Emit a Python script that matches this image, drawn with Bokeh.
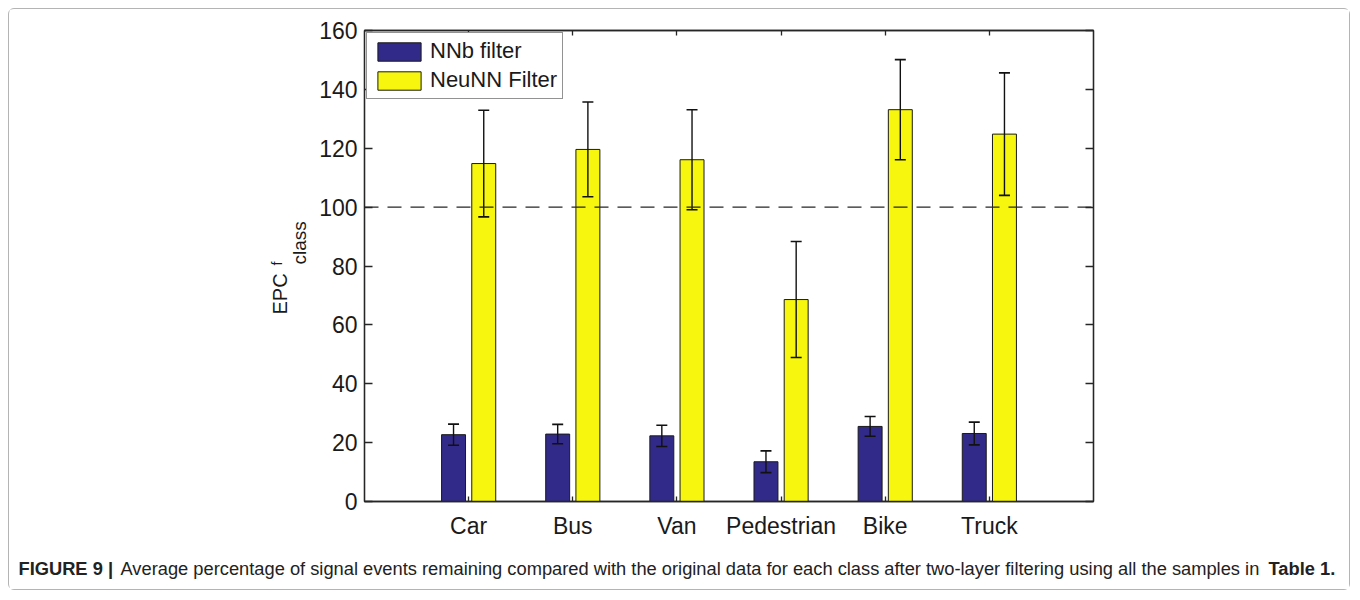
import numpy as np
from bokeh.plotting import figure
from bokeh.models import (ColumnDataSource, Range1d, Whisker, TeeHead, Span, Label,
                          Legend, LegendItem, LinearAxis, FixedTicker)
from bokeh.transform import dodge
from bokeh.embed import file_html
from bokeh.resources import INLINE

# ---- data ----
categories = ["Car", "Bus", "Van", "Pedestrian", "Bike", "Truck"]
nnb_mean = [22.7, 22.9, 22.3, 13.5, 25.5, 23.1]
nnb_err = [3.6, 3.3, 3.6, 3.7, 3.35, 3.85]
neunn_mean = [114.8, 119.6, 116.1, 68.6, 133.1, 124.8]
neunn_err = [18.1, 16.1, 17.0, 19.7, 17.0, 20.8]
y_ticks = [0, 20, 40, 60, 80, 100, 120, 140, 160]
reference_level = 100
series_labels = ["NNb filter", "NeuNN Filter"]
caption_bold = "FIGURE 9 |"
caption_text = "Average percentage of signal events remaining compared with the original data for each class after two-layer filtering using all the samples in"
caption_ref = "Table 1"

# ---- style ----
BLUE = "#312a88"
YELLOW = "#f6f60e"
AX = "#262626"
FONT = "Liberation Sans"

pos = np.arange(1, len(categories) + 1)
src = ColumnDataSource(dict(
    pos=pos,
    nnb=nnb_mean,
    nnb_lo=np.array(nnb_mean) - np.array(nnb_err),
    nnb_hi=np.array(nnb_mean) + np.array(nnb_err),
    neu=neunn_mean,
    neu_lo=np.array(neunn_mean) - np.array(neunn_err),
    neu_hi=np.array(neunn_mean) + np.array(neunn_err),
))

p = figure(width=1342, height=582, output_backend="svg", toolbar_location=None,
           x_range=Range1d(0, len(categories) + 1), y_range=Range1d(0, 160),
           min_border_left=355, min_border_right=258, min_border_top=21, min_border_bottom=90)
p.styles = {"border": "1px solid #b4b4b4", "border-radius": "6px", "margin": "8px"}
p.grid.visible = False
p.outline_line_color = AX
p.outline_line_width = 1.3

off = 0.145
bw = 0.23
r1 = p.vbar(x=dodge("pos", -off), top="nnb", width=bw, source=src,
            fill_color=BLUE, line_color="#1a1a1a", line_width=1)
r2 = p.vbar(x=dodge("pos", off), top="neu", width=bw, source=src,
            fill_color=YELLOW, line_color="#1a1a1a", line_width=1)

for base, lo, hi in [(dodge("pos", -off), "nnb_lo", "nnb_hi"), (dodge("pos", off), "neu_lo", "neu_hi")]:
    w = Whisker(source=src, base=base, lower=lo, upper=hi, level="annotation",
                line_color="#111111", line_width=1.4,
                upper_head=TeeHead(size=11, line_color="#111111", line_width=1.6),
                lower_head=TeeHead(size=11, line_color="#111111", line_width=1.6))
    p.add_layout(w)

p.add_layout(Span(location=reference_level, dimension="width", line_color=AX,
                  line_width=1.4, line_dash="14 9"))

# axes
xt = FixedTicker(ticks=list(pos))
yt = FixedTicker(ticks=y_ticks)
for ax in [p.xaxis[0], p.yaxis[0]]:
    ax.axis_line_color = AX
    ax.axis_line_width = 1.3
    ax.major_tick_line_color = AX
    ax.major_tick_line_width = 1.3
    ax.minor_tick_line_color = None
    ax.major_tick_out = 0
    ax.major_label_text_font = FONT
    ax.major_label_text_font_size = "23px"
    ax.major_label_text_color = "#1a1a1a"
p.xaxis.ticker = xt
p.xaxis.major_label_overrides = {int(i): c for i, c in zip(pos, categories)}
p.xaxis.major_tick_in = 5
p.xaxis.major_label_standoff = 11
p.yaxis.ticker = yt
p.yaxis.major_tick_in = 8
p.yaxis.major_label_standoff = 7

top_ax = LinearAxis(ticker=xt, major_label_overrides={int(i): "" for i in pos},
                    major_tick_in=5, major_tick_out=0, minor_tick_line_color=None,
                    axis_line_color=AX, axis_line_width=1.3, major_tick_line_color=AX,
                    major_tick_line_width=1.3, major_label_text_font_size="1px")
p.add_layout(top_ax, "above")
right_ax = LinearAxis(ticker=yt, major_label_overrides={t: "" for t in y_ticks},
                      major_tick_in=8, major_tick_out=0, minor_tick_line_color=None,
                      axis_line_color=AX, axis_line_width=1.3, major_tick_line_color=AX,
                      major_tick_line_width=1.3, major_label_text_font_size="1px")
p.add_layout(right_ax, "right")

legend = Legend(items=[LegendItem(label=series_labels[0], renderers=[r1]),
                       LegendItem(label=series_labels[1], renderers=[r2])],
                location="top_left", margin=2, padding=5, spacing=3,
                glyph_width=54, glyph_height=23, label_height=23, label_standoff=4,
                label_text_font=FONT, label_text_font_size="22px", label_text_color="#1a1a1a",
                border_line_color=AX, border_line_width=1.2, background_fill_alpha=1)
p.add_layout(legend)

# y-axis label: EPC^f_class (canvas units) - placed in side panels so it is not clipped
lab_kw = dict(x_units="canvas", y_units="canvas", angle=np.pi / 2, text_font=FONT,
              text_color="#1a1a1a", text_align="left", text_baseline="alphabetic")
p.add_layout(Label(x=269, y=304, text="EPC", text_font_size="20px", **lab_kw), "left")
p.add_layout(Label(x=266, y=255, text="f", text_font_size="14px", **lab_kw), "left")
p.add_layout(Label(x=289, y=254, text="class", text_font_size="19px", **lab_kw), "left")

# caption
cap_kw = dict(x_units="canvas", y_units="canvas", text_font=FONT, text_font_size="18.3px",
              text_color="#222222", text_baseline="middle", text_align="left")
p.add_layout(Label(x=8, y=558, text=caption_bold, text_font_style="bold", **cap_kw), "left")
p.add_layout(Label(x=110, y=558, text=caption_text, **cap_kw), "below")
p.add_layout(Label(x=1258, y=558, text=caption_ref + ".", text_font_style="bold", **cap_kw), "right")

open("out.html", "w").write(file_html(p, INLINE))
